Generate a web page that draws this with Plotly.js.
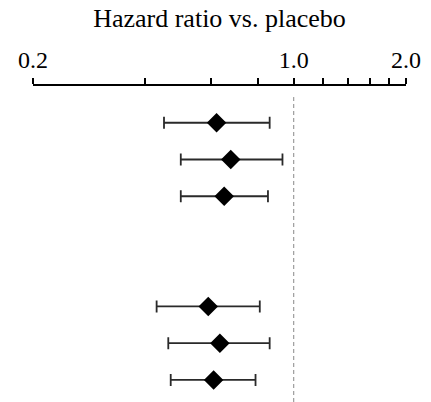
<!DOCTYPE html>
<html>
<head>
<meta charset="utf-8">
<script src="https://cdn.plot.ly/plotly-3.0.1.min.js"></script>
<style>html,body{margin:0;padding:0;background:#fff;}#chart{width:431px;height:402px;}</style>
</head>
<body>
<div id="chart"></div>
<script>
// Rows (top to bottom); r4 and r5 are empty spacer rows
const rowCategories = ['r1','r2','r3','r4','r5','r6','r7','r8'];
const dataRows = ['r1','r2','r3','r6','r7','r8'];
const hazardRatio = [0.621, 0.678, 0.651, 0.590, 0.634, 0.610];
const ciLower = [0.449, 0.498, 0.498, 0.429, 0.461, 0.468];
const ciUpper = [0.862, 0.933, 0.853, 0.811, 0.862, 0.790];
const tickValues = [0.2, 0.4, 0.6, 0.8, 1.0, 1.2, 1.4, 1.6, 1.8, 2.0];
const tickLabels = ['0.2', '', '', '', '1.0', '', '', '', '', '2.0'];
const titleText = 'Hazard ratio vs. placebo';
const referenceValue = 1.0;

const errPlus = hazardRatio.map((v, i) => ciUpper[i] - v);
const errMinus = hazardRatio.map((v, i) => v - ciLower[i]);

const trace = {
  type: 'scatter',
  mode: 'markers',
  x: hazardRatio,
  y: dataRows,
  marker: {symbol: 'diamond', size: 15, color: '#000'},
  error_x: {
    type: 'data', symmetric: false,
    array: errPlus, arrayminus: errMinus,
    color: '#2a2a2a', thickness: 1.8, width: 6
  },
  hoverinfo: 'skip',
  showlegend: false,
  cliponaxis: false
};

const layout = {
  width: 431, height: 402,
  margin: {l: 33, r: 25, t: 86, b: 0, pad: 0},
  paper_bgcolor: '#fff', plot_bgcolor: '#fff',
  font: {family: '"Liberation Serif", "Times New Roman", serif', color: '#000'},
  title: {
    text: titleText,
    font: {size: 26, family: '"Liberation Serif", "Times New Roman", serif', color: '#000'},
    x: 0.5, xanchor: 'center', xref: 'paper',
    y: 1 - 18 / 402, yanchor: 'middle', yref: 'container'
  },
  xaxis: {
    type: 'log', side: 'top',
    range: [Math.log10(0.2), Math.log10(2.0)],
    tickmode: 'array', tickvals: tickValues, ticktext: tickLabels,
    ticks: 'outside', ticklen: 6, tickwidth: 2, tickcolor: '#000',
    showline: true, linewidth: 2, linecolor: '#000',
    showgrid: false, zeroline: false,
    tickfont: {size: 24, color: '#000'},
    fixedrange: true
  },
  yaxis: {
    type: 'category', categoryorder: 'array', categoryarray: rowCategories,
    range: [7.6, -1.0],
    showticklabels: false, showgrid: false, zeroline: false, showline: false, ticks: '',
    fixedrange: true
  },
  shapes: [{
    type: 'line', xref: 'x', yref: 'paper',
    x0: referenceValue, x1: referenceValue, y0: 0, y1: 0.965,
    line: {color: '#888', width: 1, dash: '4px,3px'},
    layer: 'below'
  }]
};

Plotly.newPlot('chart', [trace], layout, {displayModeBar: false, staticPlot: true});
</script>
</body>
</html>
